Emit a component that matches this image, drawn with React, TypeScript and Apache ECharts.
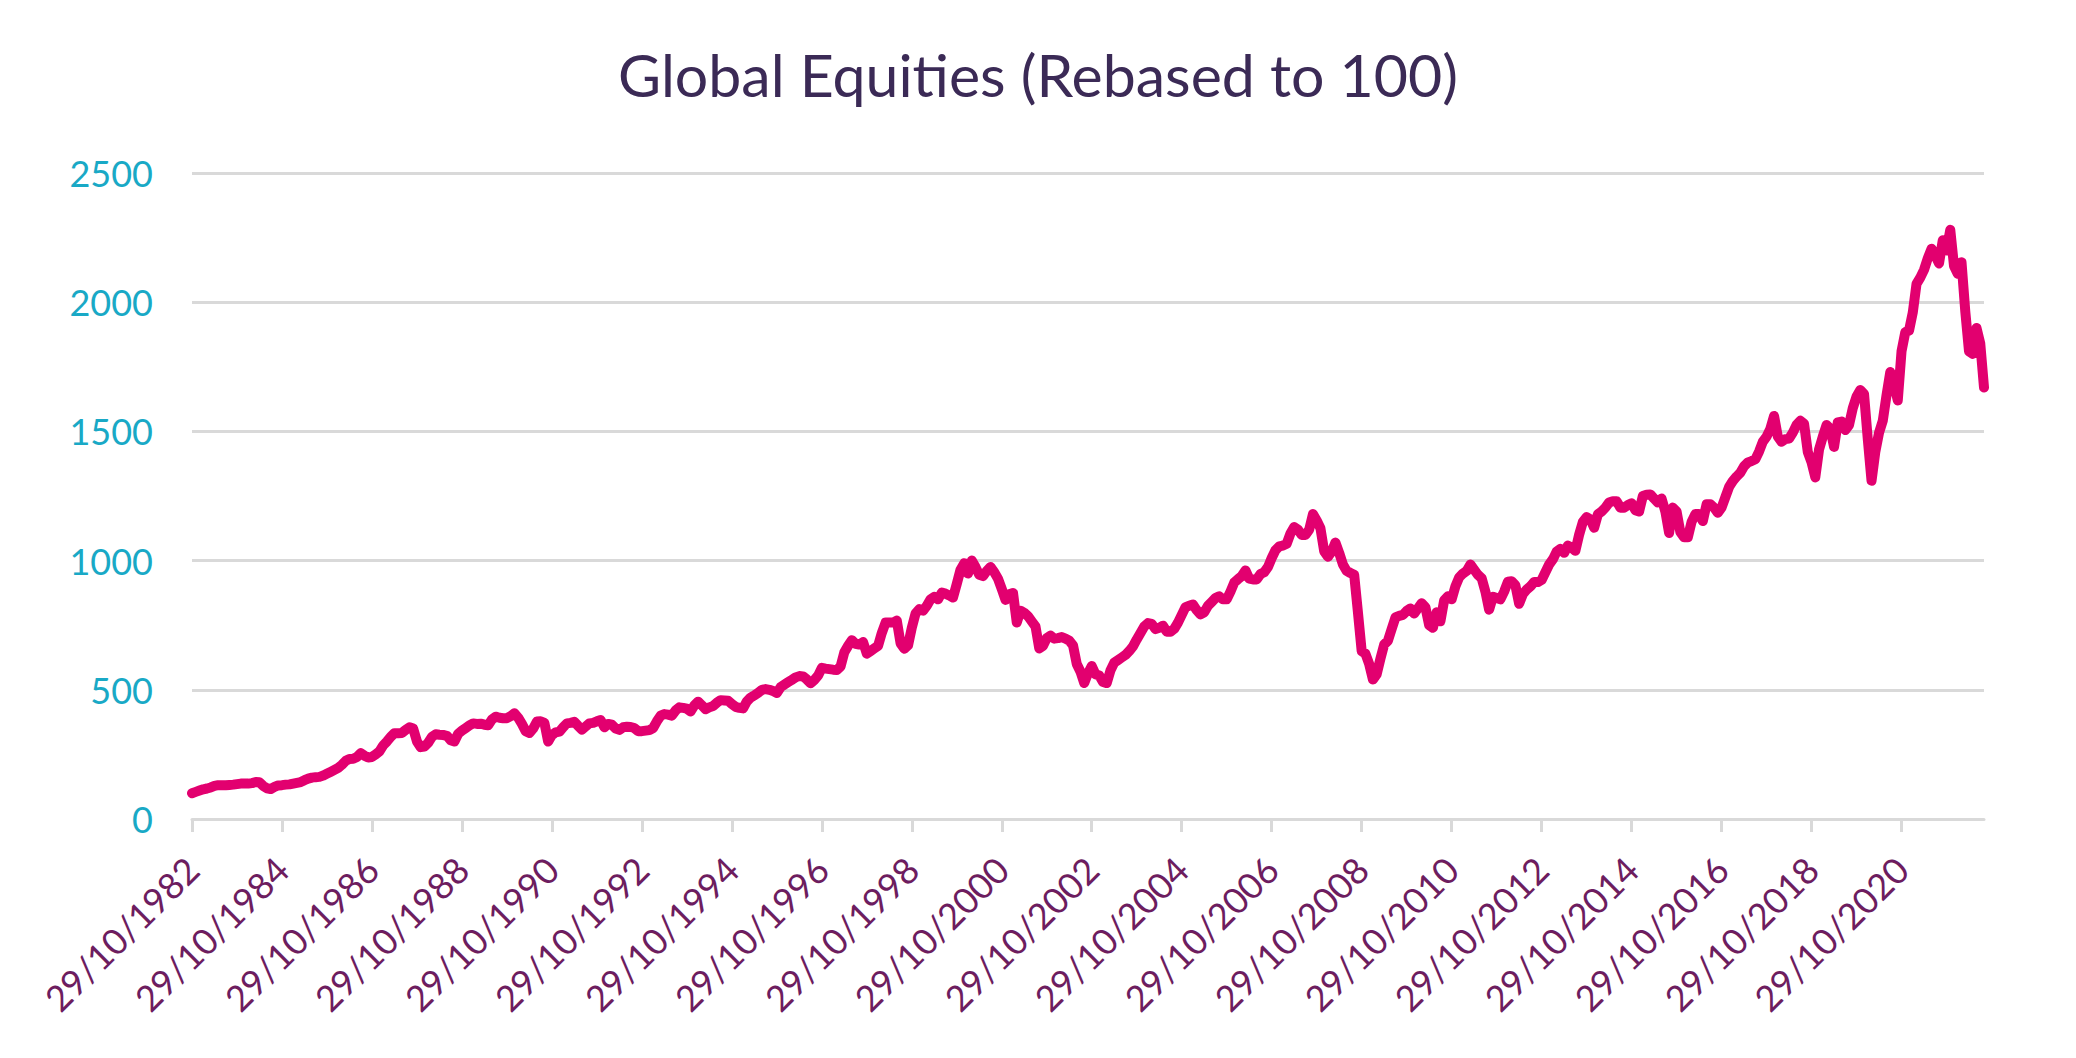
import React, { useEffect, useRef } from "react";
import * as echarts from "echarts";

const TITLE = "Global Equities (Rebased to 100)";
const START_YEAR = 1982;
const START_MONTH = 10; // October
const yTicks = [0, 500, 1000, 1500, 2000, 2500];

// Monthly index levels (rebased to 100)
const oct1982ToSep1990 = [
  100, 105, 110, 115, 118, 122, 128, 131, 131, 131, 132, 133,
  135, 137, 137, 137, 139, 143, 142, 128, 119, 116, 124, 130,
  131, 133, 134, 137, 140, 143, 150, 156, 160, 162, 163, 168,
  176, 182, 190, 198, 210, 225, 232, 233, 240, 255, 245, 238,
  240, 250, 262, 285, 300, 318, 332, 332, 333, 345, 355, 350,
  300, 278, 280, 295, 318, 328, 326, 325, 322, 305, 300, 330,
  342, 352, 362, 370, 368, 369, 365, 363, 385, 396, 392, 390,
  390, 398, 409, 392, 368, 340, 333, 350, 377, 378, 372, 300,
];
const oct1990ToSep1998 = [
  325, 335, 338, 355, 370, 372, 376, 360, 346, 358, 370, 372,
  378, 383, 355, 368, 365, 350, 345, 355, 357, 356, 352, 340,
  340, 342, 344, 352, 378, 400, 406, 404, 400, 420, 432, 430,
  427, 416, 440, 454, 440, 425, 432, 437, 450, 460, 459, 458,
  445, 434, 430, 428, 455, 470, 478, 488, 500, 503, 500, 495,
  488, 510, 520, 530, 538, 548, 553, 552, 540, 525, 538, 555,
  585, 582, 580, 578, 577, 590, 645, 670, 692, 678, 675, 685,
  640, 650, 660, 670, 720, 760, 760, 760, 768, 680, 659, 672,
];
const oct1998ToSep2006 = [
  740, 795, 812, 806, 825, 850, 860, 850, 876, 872, 865, 857,
  910, 965, 990, 950, 1000, 975, 945, 940, 960, 975, 955, 930,
  890, 848, 870, 875, 760, 806, 798, 785, 765, 745, 660, 670,
  700, 710, 698, 700, 704, 698, 690, 672, 600, 570, 526, 564,
  592, 560, 555, 530, 526, 575, 605, 615, 625, 635, 650, 668,
  695, 720, 745, 758, 755, 735, 740, 748, 725, 725, 736, 760,
  790, 820, 825, 830, 808, 792, 800, 825, 840, 855, 862, 850,
  850, 880, 915, 928, 940, 962, 930, 927, 927, 948, 955, 975,
];
const oct2006ToSep2014 = [
  1010, 1040, 1055, 1058, 1065, 1105, 1130, 1120, 1099, 1099, 1120, 1180,
  1155, 1125, 1036, 1015, 1035, 1070, 1030, 985, 960, 952, 945, 800,
  650, 640, 600, 540, 560, 620, 675, 690, 735, 780, 786, 790,
  805, 815, 795, 815, 835, 820, 750, 740, 800, 765, 846, 862,
  850, 900, 935, 950, 960, 985, 965, 945, 932, 880, 810, 860,
  855, 850, 880, 918, 920, 905, 833, 870, 888, 900, 917, 917,
  925, 955, 985, 1005, 1035, 1045, 1030, 1058, 1050, 1038, 1100, 1150,
  1168, 1160, 1127, 1179, 1190, 1205, 1225, 1230, 1230, 1205, 1205, 1215,
];
const oct2014ToAug2022 = [
  1222, 1195, 1190, 1250, 1255, 1256, 1240, 1225, 1240, 1190, 1107, 1205,
  1190, 1110, 1090, 1090, 1150, 1180, 1180, 1153, 1218, 1218, 1205, 1185,
  1205, 1245, 1285, 1308, 1325, 1340, 1365, 1380, 1385, 1392, 1422, 1460,
  1480, 1510, 1560, 1480, 1460, 1470, 1472, 1495, 1525, 1541, 1530, 1420,
  1380, 1322, 1430, 1480, 1525, 1510, 1440, 1535, 1538, 1505, 1525, 1590,
  1635, 1660, 1645, 1470, 1309, 1420, 1495, 1541, 1640, 1730, 1680, 1620,
  1810, 1884, 1890, 1960, 2071, 2095, 2125, 2170, 2207, 2180, 2150, 2240,
  2200, 2280, 2140, 2110, 2155, 1965, 1810, 1800, 1900, 1840, 1670,
];

const indexValues = [
  ...oct1982ToSep1990,
  ...oct1990ToSep1998,
  ...oct1998ToSep2006,
  ...oct2006ToSep2014,
  ...oct2014ToAug2022,
];

const monthLabels = indexValues.map((_, i) => {
  const mi = START_MONTH - 1 + i;
  const y = START_YEAR + Math.floor(mi / 12);
  const m = (mi % 12) + 1;
  const d = m === 2 ? 28 : 29;
  return `${d}/${String(m).padStart(2, "0")}/${y}`;
});

const FONT = "Lato";

export default function App() {
  const ref = useRef<HTMLDivElement>(null);
  useEffect(() => {
    document.body.style.margin = "0";
    if (!ref.current) return;
    const chart = echarts.init(ref.current, null, { renderer: "svg" });
    chart.setOption({
      animation: false,
      backgroundColor: "#ffffff",
      title: {
        text: TITLE,
        left: "center",
        top: 40,
        textStyle: {
          fontFamily: FONT,
          fontSize: 59,
          fontWeight: "normal",
          color: "#3B2A56",
        },
      },
      grid: { left: 192, right: 92, top: 173, bottom: 239, containLabel: false },
      xAxis: {
        type: "category",
        data: monthLabels,
        boundaryGap: false,
        axisLine: { lineStyle: { color: "#D9D9D9", width: 3 } },
        axisTick: {
          show: true,
          interval: 23,
          length: 13,
          lineStyle: { color: "#D9D9D9", width: 3 },
        },
        axisLabel: {
          interval: 23,
          rotate: 45,
          margin: 44,
          color: "#6D1D5F",
          fontFamily: FONT,
          fontSize: 36,
        },
        splitLine: { show: false },
      },
      yAxis: {
        type: "value",
        min: yTicks[0],
        max: yTicks[yTicks.length - 1],
        interval: yTicks[1] - yTicks[0],
        axisLine: { show: false },
        axisTick: { show: false },
        axisLabel: {
          margin: 39,
          color: "#19A9C6",
          fontFamily: FONT,
          fontSize: 36,
          formatter: (v: number) => String(v),
        },
        splitLine: { lineStyle: { color: "#D9D9D9", width: 3 } },
      },
      series: [
        {
          type: "line",
          data: indexValues,
          symbol: "none",
          showSymbol: false,
          lineStyle: { color: "#E2006F", width: 10, cap: "round", join: "round" },
          emphasis: { disabled: true },
        },
      ],
    });
    return () => chart.dispose();
  }, []);
  return <div ref={ref} style={{ width: 2076, height: 1058 }} />;
}
